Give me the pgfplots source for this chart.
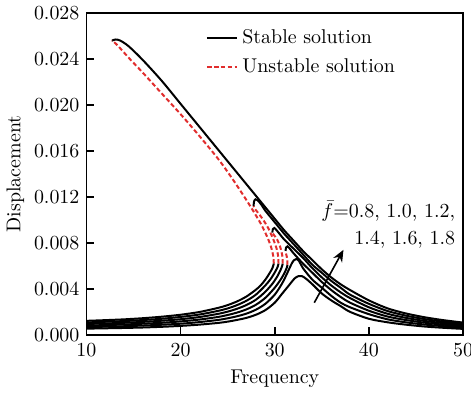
\documentclass[border=0pt]{standalone}
\usepackage{pgfplots}
\pgfplotsset{compat=1.18}
\usetikzlibrary{arrows.meta}
\definecolor{unst}{RGB}{225,45,45}
\begin{document}
\begin{tikzpicture}
\begin{axis}[
  scale only axis, width=189pt, height=161.5pt,
  xmin=10, xmax=50, ymin=0, ymax=0.028,
  xtick={10,20,30,40,50},
  ytick={0,0.004,0.008,0.012,0.016,0.020,0.024,0.028},
  scaled y ticks=false,
  yticklabel style={/pgf/number format/.cd, fixed, fixed zerofill, precision=3},
  xticklabel style={yshift=-1pt},
  tick align=inside, xtick pos=bottom, ytick pos=left,
  major tick length=4pt,
  axis line style={line width=0.8pt},
  tick style={line width=0.8pt, black},
  xlabel={Frequency}, ylabel={Displacement},
  xlabel style={yshift=0pt}, ylabel style={yshift=-2pt},
  legend style={draw=none, fill=none, at={(0.3,0.975)}, anchor=north west, font=\normalsize, row sep=2pt},
  legend cell align=left,
  legend image post style={xscale=0.9},
  every axis plot/.append style={line width=1pt},
]
% f = 1.8
\addplot[black, smooth] coordinates {(12.7,0.0256)(13.1,0.0257)(13.6,0.0256)(14.5,0.0251)(16,0.0239)(18,0.0221)(20,0.0201)(22,0.0181)(24,0.0161)(26,0.0141)(27,0.0131)(28,0.0121)(29,0.0111)(30,0.0101)(31,0.0091)(32,0.0082)(33,0.0073)(34,0.0065)(35,0.0057)(36,0.0050)(37,0.0044)(38,0.0039)(40,0.0030)(42,0.0023)(44,0.00185)(46,0.00152)(48,0.00127)(50,0.00107)};
\addlegendentry{Stable solution}
\addplot[unst, dash pattern=on 2.2pt off 1.3pt, smooth] coordinates {(29.9,0.0062)(29.83,0.0069)(29.55,0.0078)(29.1,0.0087)(28.5,0.0097)(27.7,0.0108)(26.7,0.0121)(25.4,0.0137)(24,0.0153)(22,0.0173)(20,0.0192)(18,0.0210)(16,0.0228)(14.5,0.0241)(13.4,0.0251)(12.9,0.0255)(12.7,0.0256)};
\addlegendentry{Unstable solution}
\addplot[black, smooth, forget plot] coordinates {(10,0.00122)(12,0.00128)(14,0.00135)(16,0.00145)(18,0.00158)(20,0.00175)(22,0.00199)(24,0.00235)(25,0.00259)(26,0.00291)(27,0.00334)(28,0.00393)(28.5,0.0043)(29,0.0048)(29.4,0.0053)(29.75,0.0058)(29.9,0.0062)};
% f = 1.6
\addplot[black, smooth, forget plot] coordinates {(10,0.00108)(12,0.00114)(14,0.0012)(16,0.00129)(18,0.0014)(20,0.00156)(22,0.00177)(24,0.00209)(25,0.0023)(26,0.00259)(27,0.00297)(28,0.0035)(29,0.0043)(29.6,0.0049)(30.05,0.0055)(30.3,0.0059)(30.4,0.0062)};
\addplot[unst, dash pattern=on 2.2pt off 1.3pt, smooth, forget plot] coordinates {(30.4,0.0062)(30.37,0.0068)(30.2,0.0075)(29.85,0.0083)(29.3,0.0093)(28.7,0.0101)(28.15,0.0107)(27.85,0.0110)(27.75,0.0112)};
\addplot[black, smooth, forget plot] coordinates {(27.75,0.0112)(27.8,0.0116)(27.95,0.0118)(28.2,0.0117)(28.6,0.0113)(29,0.0108)(30,0.0098)(31,0.0088)(32,0.0079)(33,0.0070)(34,0.0061)(35,0.0054)(36,0.0047)(37,0.0041)(38,0.0035)(40,0.0027)(42,0.00207)(44,0.00166)(46,0.00136)(48,0.00114)(50,0.00096)};
% f = 1.4
\addplot[black, smooth, forget plot] coordinates {(10,0.00095)(12,0.00099)(14,0.00105)(16,0.00113)(18,0.00123)(20,0.00136)(22,0.00155)(24,0.00183)(25,0.00202)(26,0.00227)(27,0.0026)(28,0.00306)(29,0.00375)(29.8,0.0045)(30.35,0.0052)(30.7,0.0058)(30.85,0.0062)};
\addplot[unst, dash pattern=on 2.2pt off 1.3pt, smooth, forget plot] coordinates {(30.85,0.0062)(30.82,0.0068)(30.6,0.0076)(30.25,0.0083)(29.9,0.0087)(29.75,0.0089)};
\addplot[black, smooth, forget plot] coordinates {(29.75,0.0089)(29.8,0.0092)(29.95,0.0093)(30.2,0.0091)(30.5,0.0088)(31,0.0083)(32,0.0075)(33,0.0067)(34,0.0058)(35,0.0050)(36,0.0043)(37,0.0037)(38,0.0032)(40,0.0024)(42,0.00183)(44,0.00147)(46,0.0012)(48,0.00101)(50,0.00085)};
% f = 1.2
\addplot[black, smooth, forget plot] coordinates {(10,0.00081)(12,0.00085)(14,0.0009)(16,0.00097)(18,0.00105)(20,0.00117)(22,0.00133)(24,0.00156)(25,0.00173)(26,0.00194)(27,0.00222)(28,0.00262)(29,0.00322)(30,0.0041)(30.7,0.0049)(31.1,0.0055)(31.3,0.0059)(31.35,0.0061)};
\addplot[unst, dash pattern=on 2.2pt off 1.3pt, smooth, forget plot] coordinates {(31.35,0.0061)(31.33,0.0066)(31.22,0.0070)(31.15,0.0073)};
\addplot[black, smooth, forget plot] coordinates {(31.15,0.0073)(31.2,0.0076)(31.35,0.0077)(31.6,0.0075)(32,0.0071)(33,0.0062)(34,0.0054)(35,0.0046)(36,0.0039)(37,0.0033)(38,0.0028)(40,0.0021)(42,0.00159)(44,0.00128)(46,0.00105)(48,0.00088)(50,0.00074)};
% f = 1.0
\addplot[black, smooth, forget plot] coordinates {(10,0.00068)(12,0.00071)(14,0.00075)(16,0.00081)(18,0.00088)(20,0.00097)(22,0.00111)(24,0.0013)(25,0.00144)(26,0.00162)(27,0.00185)(28,0.00219)(29,0.0027)(30,0.0035)(30.8,0.0045)(31.4,0.0055)(31.8,0.0062)(32.05,0.0065)(32.3,0.0066)(32.6,0.0064)(33,0.0058)(34,0.0048)(35,0.0041)(36,0.0034)(37,0.0028)(38,0.0024)(40,0.0018)(42,0.00135)(44,0.00108)(46,0.00089)(48,0.00075)(50,0.00063)};
% f = 0.8
\addplot[black, smooth, forget plot] coordinates {(10,0.00054)(12,0.00057)(14,0.0006)(16,0.00064)(18,0.0007)(20,0.00078)(22,0.00089)(24,0.00104)(25,0.00115)(26,0.0013)(27,0.00148)(28,0.00175)(29,0.00215)(30,0.0028)(30.8,0.0036)(31.5,0.0043)(32.1,0.0049)(32.5,0.0051)(32.9,0.0051)(33.3,0.0049)(34,0.0044)(35,0.0036)(36,0.0030)(37,0.0025)(38,0.0020)(40,0.0014)(42,0.00109)(44,0.00088)(46,0.00072)(48,0.00061)(50,0.00052)};
\draw[line width=0.8pt, -{Stealth[length=6pt,width=5pt]}] (axis cs:34.2,0.0028) -- (axis cs:37.3,0.0074);
\node[anchor=base east, inner sep=0pt] at (axis cs:49.2,0.0102) {$\bar{f}$=0.8, 1.0, 1.2,};
\node[anchor=base east, inner sep=0pt] at (axis cs:49.2,0.0079) {1.4, 1.6, 1.8};
\coordinate (R) at (rel axis cs:1,0);
\end{axis}
\coordinate (BBsw) at (current bounding box.south west);
\coordinate (BBne) at (current bounding box.north east);
\coordinate (R2) at ([xshift=4pt]R);
\pgfresetboundingbox
\path[use as bounding box] (BBsw) rectangle (R2 |- BBne);
\end{tikzpicture}
\end{document}
